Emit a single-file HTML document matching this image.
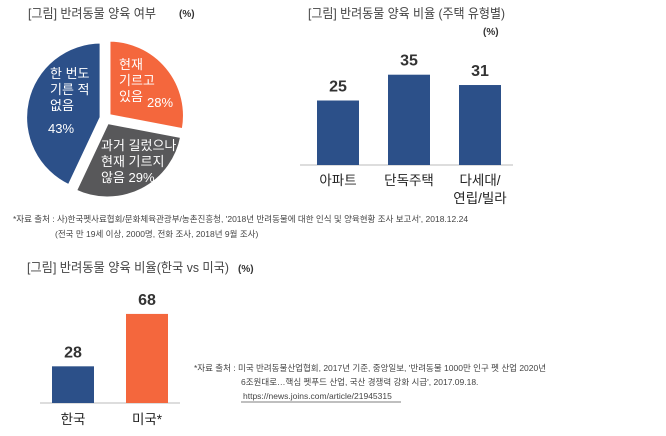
<!DOCTYPE html>
<html><head><meta charset="utf-8">
<style>
html,body{margin:0;padding:0;background:#fff;}
body{width:666px;height:431px;overflow:hidden;font-family:"Liberation Sans","Noto Sans CJK KR",sans-serif;}
svg text{font-family:"Liberation Sans","Noto Sans CJK KR",sans-serif;}
</style></head>
<body>
<svg id="c" width="666" height="431" viewBox="0 0 666 431" xmlns="http://www.w3.org/2000/svg">
<text x="28" y="18" font-size="13" fill="#444" textLength="128" lengthAdjust="spacingAndGlyphs">[그림] 반려동물 양육 여부</text>
<text x="179" y="17" font-size="10" fill="#333" font-weight="bold">(%)</text>
<text x="308" y="18" font-size="13" fill="#444" textLength="197" lengthAdjust="spacingAndGlyphs">[그림] 반려동물 양육 비율 (주택 유형별)</text>
<text x="483" y="35" font-size="10" fill="#333" font-weight="bold">(%)</text>
<text x="13" y="222" font-size="8.5" fill="#444">*자료 출처 : 사)한국펫사료협회/문화체육관광부/농촌진흥청, '2018년 반려동물에 대한 인식 및 양육현황 조사 보고서', 2018.12.24</text>
<text x="55" y="237" font-size="8.5" fill="#444">(전국 만 19세 이상, 2000명, 전화 조사, 2018년 9월 조사)</text>
<text x="27" y="272" font-size="13" fill="#444" textLength="202" lengthAdjust="spacingAndGlyphs">[그림] 반려동물 양육 비율(한국 vs 미국)</text>
<text x="238" y="272" font-size="10" fill="#333" font-weight="bold">(%)</text>
<text x="194" y="371" font-size="8.5" fill="#444">*자료 출처 : 미국 반려동물산업협회, 2017년 기준, 중앙일보, '반려동물 1000만 인구 펫 산업 2020년</text>
<text x="241" y="385" font-size="8.5" fill="#444">6조원대로…핵심 펫푸드 산업, 국산 경쟁력 강화 시급', 2017.09.18.</text>
<text x="243" y="399" font-size="8.5" fill="#444">https://news.joins.com/article/21945315</text>
<line x1="241" y1="402" x2="401" y2="402" stroke="#555" stroke-width="0.8"/>
<g id="pie"></g>
<g id="bars1"></g>
<g id="bars2"></g>
</svg>
<script>
const pieLabels = [["현재","기르고","있음"],["과거 길렀으나","현재 기르지","않음"],["한 번도","기른 적","없음"]];
const pieValues = [28, 29, 43];
const pieColors = ["#f4673d","#58585a","#2c5089"];
const housingCats = [["아파트"],["단독주택"],["다세대/","연립/빌라"]];
const housingValues = [25, 35, 31];
const compareCats = ["한국","미국*"];
const compareValues = [28, 68];
const compareColors = ["#2c5089","#f4673d"];

const NS="http://www.w3.org/2000/svg";
function mk(tag,attrs,parent){const e=document.createElementNS(NS,tag);for(const k in attrs)e.setAttribute(k,attrs[k]);parent.appendChild(e);return e;}

// Pie
(function(){
  const g=document.getElementById('pie');
  const cx=105.5,cy=118.5,r=75.5,off=4.5;
  const total=pieValues.reduce((a,b)=>a+b,0);
  let a0=0;
  pieValues.forEach((v,i)=>{
    const a1=a0+v/total*2*Math.PI, am=(a0+a1)/2;
    const ox=cx+off*Math.sin(am), oy=cy-off*Math.cos(am);
    const x0=ox+r*Math.sin(a0),y0=oy-r*Math.cos(a0),x1=ox+r*Math.sin(a1),y1=oy-r*Math.cos(a1);
    const large=(a1-a0)>Math.PI?1:0;
    const p=mk('path',{d:`M${ox},${oy} L${x0},${y0} A${r},${r} 0 ${large} 1 ${x1},${y1} Z`,fill:pieColors[i],stroke:'#fff','stroke-width':3},g);
    
    
    a0=a1;
  });
  const pos=[{x:119,y:69,px:147,py:107},{x:101,y:150,px:159,py:181},{x:50,y:78,px:48,py:133}];
  pieLabels.forEach((lines,i)=>{
    lines.forEach((t,j)=>{
      const tx=mk('text',{x:pos[i].x,y:pos[i].y+j*16,'font-size':13,fill:'#fff'},g);
      tx.textContent=t+(i===1&&j===2?' '+pieValues[i]+'%':'');
      
      
    });
    if(i!==1){
      const pt=mk('text',{x:pos[i].px,y:pos[i].py,'font-size':13,fill:'#fff'},g);
      pt.textContent=pieValues[i]+'%';
      
      
    }
  });
})();

// Housing bars
(function(){
  const g=document.getElementById('bars1');
  const base=165, k=2.58, x0=317, step=71, w=42;
  const ln=mk('line',{x1:300,y1:base,x2:513,y2:base,stroke:'#bbb','stroke-width':1},g);
  
  
  housingValues.forEach((v,i)=>{
    const x=x0+i*step,h=v*k;
    const b=mk('rect',{x:x,y:base-h,width:w,height:h,fill:'#2c5089'},g);
    
    
    const t=mk('text',{x:x+w/2,y:base-h-9,'font-size':16,'font-weight':'bold',fill:'#333','text-anchor':'middle'},g);
    t.textContent=v;
    
    
    housingCats[i].forEach((c,j)=>{
      const ct=mk('text',{x:x+w/2,y:base+20+j*18,'font-size':13.5,fill:'#222','text-anchor':'middle'},g);
      ct.textContent=c;
      
      
    });
  });
})();

// Compare bars
(function(){
  const g=document.getElementById('bars2');
  const base=403, k=1.31, x0=52, step=74, w=42;
  const ln=mk('line',{x1:40,y1:base,x2:180,y2:base,stroke:'#bbb','stroke-width':1},g);
  
  
  compareValues.forEach((v,i)=>{
    const x=x0+i*step,h=v*k;
    const b=mk('rect',{x:x,y:base-h,width:w,height:h,fill:compareColors[i]},g);
    
    
    const t=mk('text',{x:x+w/2,y:base-h-9,'font-size':16,'font-weight':'bold',fill:'#333','text-anchor':'middle'},g);
    t.textContent=v;
    
    
    const ct=mk('text',{x:x+w/2,y:base+21,'font-size':13.5,fill:'#222','text-anchor':'middle'},g);
    ct.textContent=compareCats[i];
    
    
  });
})();
</script>
</body></html>
